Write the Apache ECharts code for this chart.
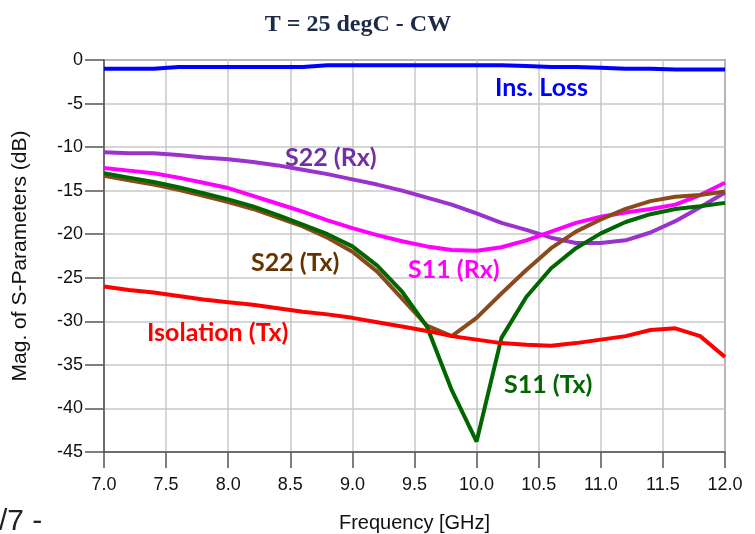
<!DOCTYPE html>
<html>
<head>
<meta charset="utf-8">
<script src="https://cdn.jsdelivr.net/npm/echarts@6/dist/echarts.min.js"></script>
<style>
html,body{margin:0;padding:0;background:#fff;}
#chart{width:755px;height:534px;}
</style>
</head>
<body>
<div id="chart"></div>
<script>
var freq = [7.0,7.2,7.4,7.6,7.8,8.0,8.2,8.4,8.6,8.8,9.0,9.2,9.4,9.6,9.8,10.0,10.2,10.4,10.6,10.8,11.0,11.2,11.4,11.6,11.8,12.0];
var insLoss = [-1.0,-1.0,-1.0,-0.8,-0.8,-0.8,-0.8,-0.8,-0.8,-0.6,-0.6,-0.6,-0.6,-0.6,-0.6,-0.6,-0.6,-0.7,-0.8,-0.8,-0.9,-1.0,-1.0,-1.1,-1.1,-1.1];
var s22Rx = [-10.6,-10.7,-10.7,-10.9,-11.2,-11.4,-11.7,-12.1,-12.6,-13.1,-13.7,-14.3,-15.0,-15.8,-16.6,-17.6,-18.7,-19.5,-20.4,-21.0,-21.0,-20.7,-19.8,-18.5,-16.9,-15.2];
var s11Rx = [-12.4,-12.7,-13.0,-13.5,-14.1,-14.7,-15.6,-16.5,-17.4,-18.4,-19.3,-20.1,-20.8,-21.4,-21.8,-21.9,-21.5,-20.7,-19.7,-18.7,-18.0,-17.5,-17.1,-16.6,-15.5,-14.1];
var s22Tx = [-13.3,-13.8,-14.3,-14.9,-15.6,-16.3,-17.1,-18.1,-19.1,-20.4,-22.0,-24.3,-27.4,-30.5,-31.7,-29.6,-26.8,-24.1,-21.6,-19.7,-18.3,-17.1,-16.2,-15.7,-15.5,-15.1];
var s11Tx = [-13.0,-13.5,-14.0,-14.6,-15.3,-16.0,-16.8,-17.8,-18.9,-20.0,-21.4,-23.6,-26.6,-30.6,-37.9,-43.8,-31.9,-27.2,-23.9,-21.6,-19.9,-18.6,-17.7,-17.1,-16.8,-16.4];
var isoTx = [-26.0,-26.4,-26.7,-27.1,-27.5,-27.8,-28.1,-28.5,-28.9,-29.2,-29.6,-30.1,-30.6,-31.1,-31.7,-32.1,-32.5,-32.7,-32.8,-32.5,-32.1,-31.7,-31.0,-30.8,-31.7,-34.1];

var seriesNames = ['Ins. Loss','S22 (Rx)','S11 (Rx)','S22 (Tx)','S11 (Tx)','Isolation (Tx)'];
var seriesData = [insLoss, s22Rx, s11Rx, s22Tx, s11Tx, isoTx];
var lineColors = ['#0000ff','#9933cc','#ff00ff','#8b4a1c','#006600','#ff0000'];

var titleText = 'T = 25 degC - CW';
var xName = 'Frequency [GHz]';
var yName = 'Mag. of S-Parameters (dB)';
var pageText = '/7 -';

function pairs(ys){ return freq.map(function(f,i){ return [f, ys[i]]; }); }

var chart = echarts.init(document.getElementById('chart'), null, {renderer:'canvas'});

var series = seriesData.map(function(d,i){
  return {
    name: seriesNames[i], type:'line', data: pairs(d), symbol:'none',
    lineStyle:{color: lineColors[i], width:4}, z: 3 + i, animation:false
  };
});

var lblFont = 'Lato, "Open Sans", sans-serif';
function lbl(text, x, y, color){
  return {type:'text', z:100,
    style:{text:text, x:x, y:y, verticalAlign:'middle', align:'left', fill:color, font:'bold 25px ' + lblFont}};
}

chart.setOption({
  animation:false,
  backgroundColor:'#ffffff',
  grid:{left:104, right:30, top:60, bottom:82, show:true, borderColor:'#555555', borderWidth:1.5,
    containLabel:false, outerBoundsMode:'none'},
  xAxis:{
    type:'value', min:7, max:12, interval:0.5,
    name: xName, nameLocation:'middle', nameGap:61,
    nameTextStyle:{fontFamily:'"Liberation Sans", Arial, sans-serif', fontSize:20, color:'#111'},
    axisLine:{show:true, onZero:false, lineStyle:{color:'#555555', width:1.5}},
    axisTick:{show:true, length:16, lineStyle:{color:'#555555', width:1.5}},
    axisLabel:{margin:24, fontFamily:'"Liberation Sans", Arial, sans-serif', fontSize:18, color:'#111',
      formatter:function(v){ return v.toFixed(1); }},
    splitLine:{show:true, lineStyle:{color:'#c8c8c8', width:1.5}}
  },
  yAxis:{
    type:'value', min:-45, max:0, interval:5,
    name: yName, nameLocation:'middle', nameGap:73, nameRotate:90,
    nameTextStyle:{fontFamily:'"Liberation Sans", Arial, sans-serif', fontSize:21, color:'#111'},
    axisLine:{show:true, onZero:false, lineStyle:{color:'#555555', width:1.5}},
    axisTick:{show:true, length:19, lineStyle:{color:'#555555', width:1.5}},
    axisLabel:{margin:21, fontFamily:'"Liberation Sans", Arial, sans-serif', fontSize:18, color:'#111'},
    splitLine:{show:true, lineStyle:{color:'#c8c8c8', width:1.5}}
  },
  series: series,
  graphic:[
    {type:'text', z:100,
      style:{text:titleText, x:358, y:25, align:'center', verticalAlign:'middle', fill:'#1c2a45', font:'bold 24px "Liberation Serif", "Times New Roman", serif'}},
    {type:'text', z:100,
      style:{text:pageText, x:-1, y:522, align:'left', verticalAlign:'middle', fill:'#222', font:'30px "Liberation Sans", sans-serif'}},
    lbl('Ins. Loss', 495, 88, '#0000ff'),
    lbl('S22 (Rx)', 285, 158, '#7030a0'),
    lbl('S22 (Tx)', 251, 263, '#663300'),
    lbl('S11 (Rx)', 408, 270, '#ff00ff'),
    lbl('Isolation (Tx)', 147, 333, '#ff0000'),
    lbl('S11 (Tx)', 504, 385, '#006600')
  ]
});
</script>
</body>
</html>
